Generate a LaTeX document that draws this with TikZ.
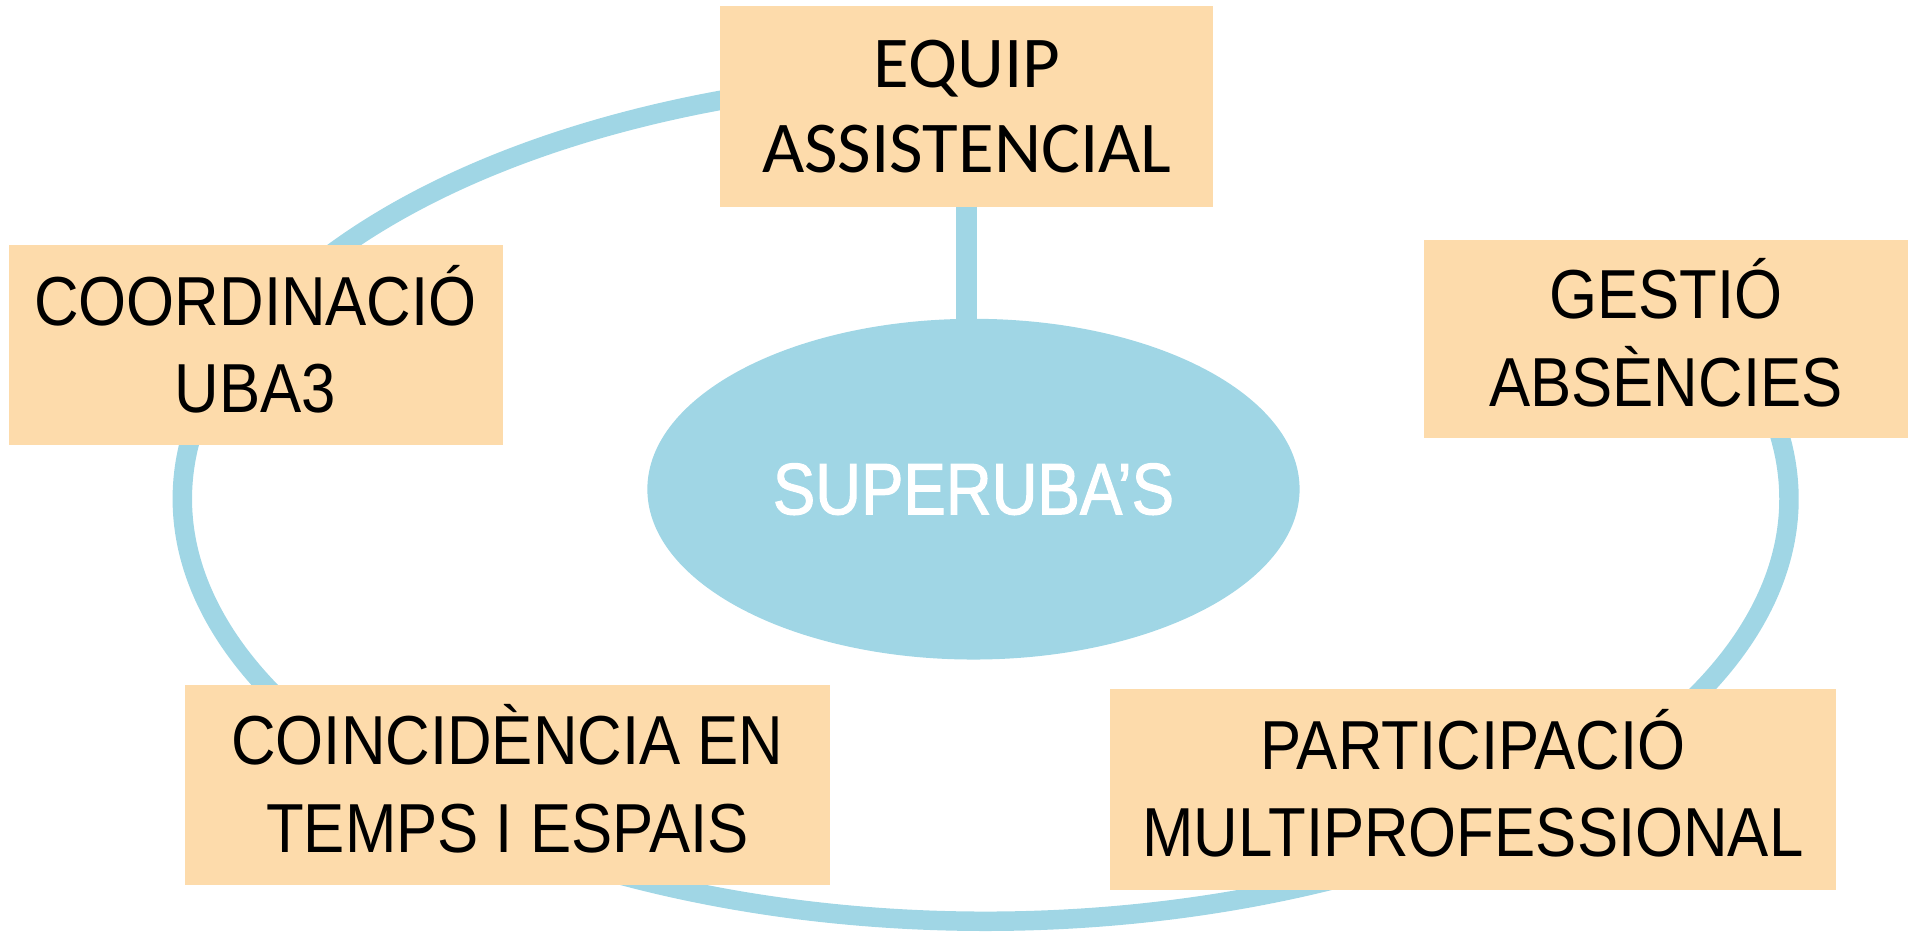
\documentclass[tikz,border=0pt]{standalone}
\usepackage{fontspec}
\usetikzlibrary{shapes.geometric}
\newfontfamily\boxfont[FakeStretch=0.89]{Liberation Sans}
\newfontfamily\corefont[FakeStretch=0.87,FakeBold=1.4]{Liberation Sans}
\newfontfamily\calfont{Carlito}
\definecolor{ringblue}{HTML}{A0D6E5}
\definecolor{peach}{HTML}{FDDBAB}
\begin{document}
\begin{tikzpicture}[x=1pt,y=-1pt,
  card/.style={fill=peach, inner sep=0pt, outer sep=0pt, align=center,
    font=\boxfont\fontsize{57}{72}\selectfont},
  bluering/.style={draw=ringblue, line width=16pt},
  corefill/.style={fill=ringblue, ellipse, inner sep=0pt, outer sep=0pt, text=white,
    font=\corefont\fontsize{60}{72}\selectfont},
  linkline/.style={draw=ringblue, line width=17pt}]
\useasboundingbox (0,0) rectangle (1568,766);
% open ring (no arc between the top box and the right box)
\coordinate (ringstart) at ({810+660*cos(-18)},{410+347*sin(-18)});
\draw[bluering] (ringstart) arc[start angle=-18, end angle=278, x radius=660, y radius=347];
\node[corefill, minimum width=536pt, minimum height=280pt] (core) at (800,402) {SUPERUBA’S};
\node[card, minimum width=405pt, minimum height=165pt, font=\calfont\fontsize{60}{70}\selectfont] (equip) at (794.5,87.5) {EQUIP\\ASSISTENCIAL};
\draw[linkline] (equip.south) -- (equip.south |- core.north);
\node[card, minimum width=406pt, minimum height=165pt] (coord) at (210,283.5) {COORDINACI\smash{Ó}\\UBA3};
\node[card, minimum width=398pt, minimum height=163pt] (gestio) at (1369,278.5) {GESTI\smash{Ó}\\ABS\smash{È}NCIES};
\node[card, minimum width=530pt, minimum height=164pt] (coinc) at (417,645) {COINCID\smash{È}NCIA EN\\TEMPS I ESPAIS};
\node[card, minimum width=597pt, minimum height=165pt] (part) at (1210.5,648.5) {PARTICIPACI\smash{Ó}\\MULTIPROFESSIONAL};
\end{tikzpicture}
\end{document}
